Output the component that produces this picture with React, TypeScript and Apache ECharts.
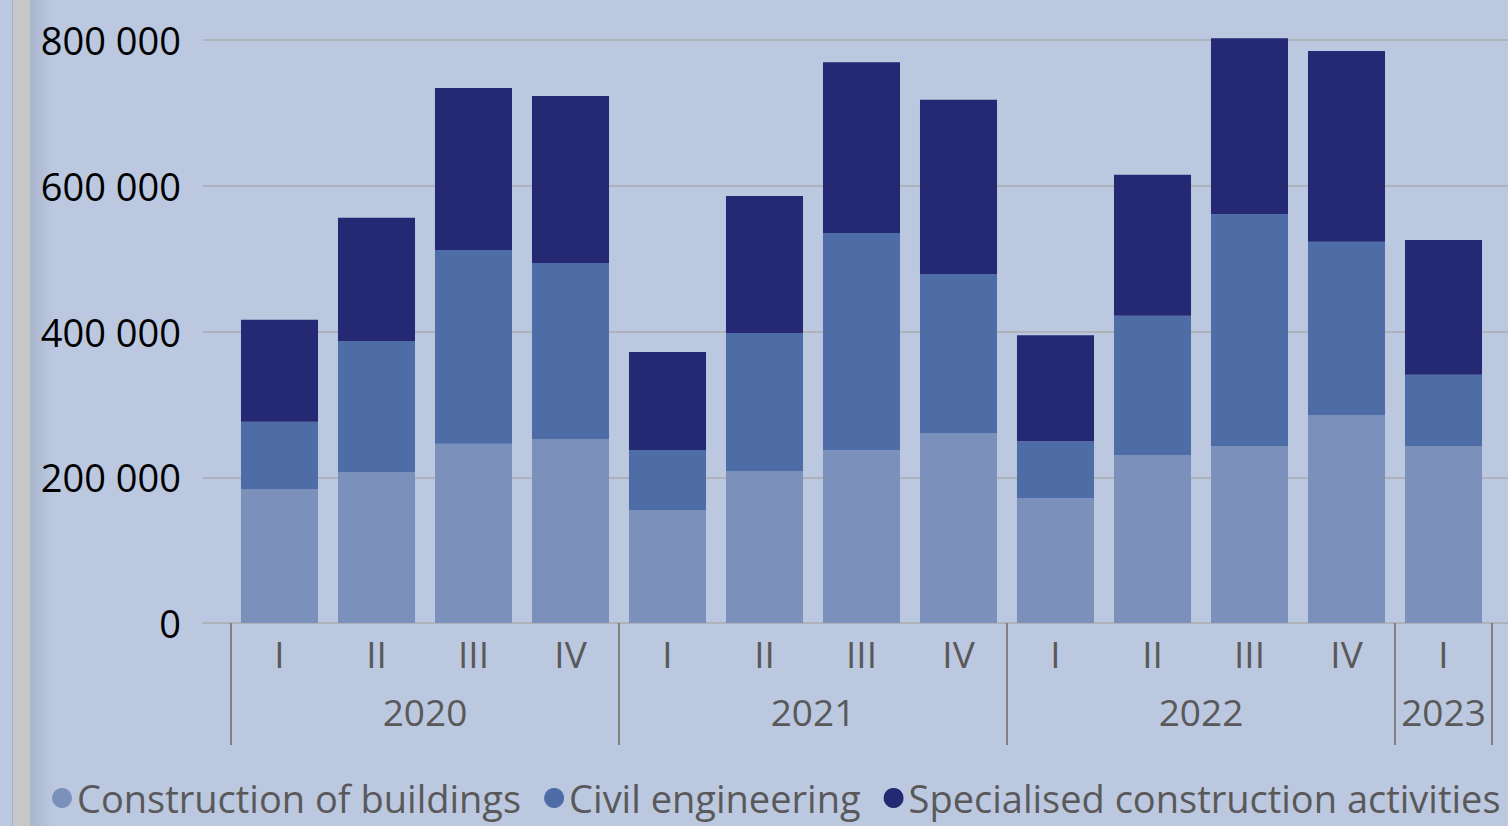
import React, { useEffect, useRef } from "react";
import * as echarts from "echarts";

const quarterLabels = ["I", "II", "III", "IV", "I", "II", "III", "IV", "I", "II", "III", "IV", "I"];
const yearLabels = ["2020", "2021", "2022", "2023"];
const quartersPerYear = [4, 4, 4, 1];
const seriesNames = ["Construction of buildings", "Civil engineering", "Specialised construction activities"];
const buildings = [184000, 207000, 246000, 252500, 155000, 208500, 237500, 260500, 171500, 230500, 243000, 285500, 243000];
const civil = [92000, 180000, 266000, 241500, 82500, 189500, 297500, 218500, 78000, 191000, 318000, 237500, 97500];
const specialised = [140000, 169000, 222000, 229000, 134500, 188000, 234500, 239000, 145500, 193500, 241500, 262000, 185000];
const yMin = 0;
const yMax = 800000;
const yInterval = 200000;

const colors = ["#7b91bb", "#4e6ca6", "#252873"];
const FONT = "Open Sans";

function fmt(v: number) {
  return String(v).replace(/\B(?=(\d{3})+(?!\d))/g, " ");
}

export default function App() {
  const ref = useRef<HTMLDivElement>(null);
  useEffect(() => {
    const chart = echarts.init(ref.current!, undefined, { renderer: "svg" });
    const boundaries: number[] = [0];
    quartersPerYear.forEach((q) => boundaries.push(boundaries[boundaries.length - 1] + q));
    const centers = yearLabels.map((_, i) => (boundaries[i] + boundaries[i + 1]) / 2);
    const total = boundaries[boundaries.length - 1];
    const data = [buildings, civil, specialised];

    chart.setOption({
      animation: false,
      backgroundColor: "#bcc8e0",
      textStyle: { fontFamily: FONT },
      graphic: [
        { type: "rect", shape: { x: 0, y: 0, width: 13, height: 826 }, style: { fill: "#bcc8e0" }, z: -1 },
        { type: "rect", shape: { x: 12, y: 0, width: 1, height: 826 }, style: { fill: "#9fb0d0" }, z: -1 },
        { type: "rect", shape: { x: 13, y: 0, width: 17, height: 826 }, style: { fill: "#c7c7c9" }, z: -1 },
        {
          type: "rect",
          shape: { x: 30, y: 0, width: 24, height: 826 },
          style: {
            fill: new echarts.graphic.LinearGradient(0, 0, 1, 0, [
              { offset: 0, color: "#a9b5cb" },
              { offset: 1, color: "#bcc8e0" },
            ]),
          },
          z: -1,
        },
      ],
      grid: [
        { left: 231, right: 16, top: 40, bottom: 203 },
        { left: 203, right: 0, top: 40, bottom: 203 },
      ],
      legend: {
        left: 52,
        top: 779,
        width: 1456,
        padding: 0,
        itemWidth: 20,
        itemHeight: 20,
        itemGap: 23,
        icon: "circle",
        textStyle: { color: "#595959", fontSize: 38, fontFamily: FONT },
        data: seriesNames,
      },
      xAxis: [
        {
          type: "category",
          gridIndex: 0,
          data: quarterLabels,
          axisLine: { show: false },
          axisTick: { show: false },
          axisLabel: { color: "#595959", fontSize: 37, margin: 12, fontFamily: FONT },
        },
        {
          type: "value",
          gridIndex: 0,
          min: 0,
          max: total,
          position: "bottom",
          axisLine: { show: false },
          splitLine: { show: false },
          axisTick: {
            show: true,
            customValues: boundaries,
            length: 122,
            lineStyle: { color: "#808080", width: 2 },
          },
          axisLabel: {
            show: true,
            customValues: centers,
            margin: 70,
            color: "#595959",
            fontSize: 37,
            fontFamily: FONT,
            formatter: (v: number) => {
              const i = centers.indexOf(v);
              return i >= 0 ? yearLabels[i] : "";
            },
          },
        },
        {
          type: "category",
          gridIndex: 1,
          data: quarterLabels,
          axisLine: { show: true, lineStyle: { color: "#aeb2ba", width: 2 } },
          axisTick: { show: false },
          axisLabel: { show: false },
        },
      ],
      yAxis: [
        {
          type: "value",
          gridIndex: 0,
          min: yMin,
          max: yMax,
          interval: yInterval,
          axisLabel: { show: false },
          splitLine: { show: false },
          axisLine: { show: false },
          axisTick: { show: false },
        },
        {
          type: "value",
          gridIndex: 1,
          min: yMin,
          max: yMax,
          interval: yInterval,
          axisLine: { show: false },
          axisTick: { show: false },
          splitLine: { show: true, lineStyle: { color: "#aeb2ba", width: 2 } },
          axisLabel: { color: "#000000", fontSize: 38, margin: 22, fontFamily: FONT, formatter: (v: number) => fmt(v) },
        },
      ],
      series: seriesNames.map((name, i) => ({
        name,
        type: "bar",
        stack: "total",
        xAxisIndex: 0,
        yAxisIndex: 0,
        data: data[i],
        barCategoryGap: "20.6%",
        clip: false,
        itemStyle: { color: colors[i] },
        emphasis: { disabled: true },
      })),
    });
    return () => chart.dispose();
  }, []);
  return <div ref={ref} style={{ position: "fixed", left: 0, top: 0, width: 1508, height: 826 }} />;
}
